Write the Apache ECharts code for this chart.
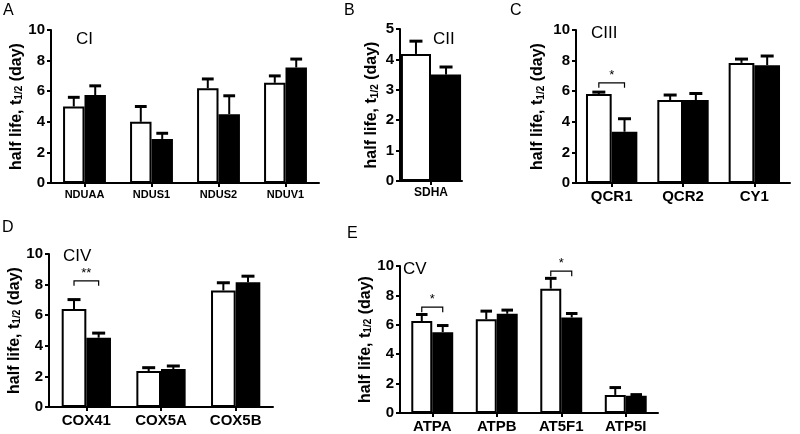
<!DOCTYPE html>
<html><head><meta charset="utf-8">
<script src="https://cdn.jsdelivr.net/npm/echarts@6/dist/echarts.min.js"></script>
<style>html,body{margin:0;padding:0;background:#fff}#c{width:800px;height:434px}</style>
</head><body><div id="c"></div>
<script>
// ---- data ----
const catA = ['NDUAA','NDUS1','NDUS2','NDUV1'];
const ctrlA = [5.0, 4.0, 6.2, 6.55];
const ctrlErrA = [0.6, 1.0, 0.6, 0.45];
const trtA = [5.75, 2.88, 4.5, 7.55];
const trtErrA = [0.6, 0.37, 1.2, 0.55];

const catB = ['SDHA'];
const ctrlB = [4.18];
const ctrlErrB = [0.42];
const trtB = [3.5];
const trtErrB = [0.25];

const catC = ['QCR1','QCR2','CY1'];
const ctrlC = [5.82, 5.42, 7.85];
const ctrlErrC = [0.12, 0.33, 0.25];
const trtC = [3.35, 5.42, 7.7];
const trtErrC = [0.85, 0.43, 0.6];

const catD = ['COX41','COX5A','COX5B'];
const ctrlD = [6.4, 2.35, 7.62];
const ctrlErrD = [0.62, 0.22, 0.5];
const trtD = [4.53, 2.48, 8.15];
const trtErrD = [0.3, 0.2, 0.4];

const catE = ['ATPA','ATPB','AT5F1','ATP5I'];
const ctrlE = [6.26, 6.38, 8.46, 1.23];
const ctrlErrE = [0.44, 0.55, 0.7, 0.5];
const trtE = [5.5, 6.75, 6.5, 1.17];
const trtErrE = [0.45, 0.25, 0.27, 0.08];

// significance: [category index, bracket level, label]
const sigC = [[0, 6.55, '*']];
const sigD = [[0, 8.25, '**']];
const sigE = [[0, 7.2, '*'], [2, 9.65, '*']];

const yMaxes = [10, 5, 10, 10, 10];
const yIntervals = [2, 1, 2, 2, 2];
const panelLetters = ['A','B','C','D','E'];
const panelTitles = ['CI','CII','CIII','CIV','CV'];
const yTitle = 'half life, t{sub|1/2} (day)';

// ---- layout (styles only) ----
const grids = [
  {left: 51, top: 30, width: 268, height: 153},
  {left: 400, top: 29, width: 62, height: 152},
  {left: 576, top: 30, width: 214, height: 153},
  {left: 49, top: 254, width: 224, height: 153},
  {left: 400, top: 266, width: 258, height: 149}
];
const gaps = [0.36, 0.03, 0.28, 0.34, 0.35];
const catFont = [11, 12, 15, 15, 15];
const nameGaps = [25, 20, 30, 25, 26];

const panels = [
  {cat: catA, c: ctrlA, ce: ctrlErrA, t: trtA, te: trtErrA, sig: []},
  {cat: catB, c: ctrlB, ce: ctrlErrB, t: trtB, te: trtErrB, sig: []},
  {cat: catC, c: ctrlC, ce: ctrlErrC, t: trtC, te: trtErrC, sig: sigC},
  {cat: catD, c: ctrlD, ce: ctrlErrD, t: trtD, te: trtErrD, sig: sigD},
  {cat: catE, c: ctrlE, ce: ctrlErrE, t: trtE, te: trtErrE, sig: sigE}
];

const FONT = 'Liberation Sans, Arial, sans-serif';
const chart = echarts.init(document.getElementById('c'));

const xAxis = [], yAxis = [], series = [];
panels.forEach((p, i) => {
  xAxis.push({
    type: 'category', gridIndex: i, data: p.cat,
    axisLine: {lineStyle: {color: '#000', width: 2}},
    axisTick: {show: true, alignWithLabel: true, length: 4, lineStyle: {color: '#000', width: 2}},
    axisLabel: {color: '#000', fontWeight: 'bold', fontSize: catFont[i], fontFamily: FONT, margin: 6, interval: 0}
  });
  yAxis.push({
    type: 'value', gridIndex: i, min: 0, max: yMaxes[i], interval: yIntervals[i],
    name: yTitle, nameLocation: 'middle', nameRotate: 90, nameGap: nameGaps[i],
    nameTextStyle: {color: '#000', fontWeight: 'bold', fontSize: 16, fontFamily: FONT,
      rich: {sub: {fontSize: 10, fontWeight: 'bold', fontFamily: FONT, color: '#000', verticalAlign: 'bottom', padding: [6, 0, 0, 0]}}},
    axisLine: {show: true, lineStyle: {color: '#000', width: 2}},
    axisTick: {show: true, length: 4, lineStyle: {color: '#000', width: 2}},
    axisLabel: {color: '#000', fontWeight: 'bold', fontSize: 15, fontFamily: FONT, margin: 6},
    splitLine: {show: false}
  });
  const gapPct = Math.round(gaps[i] * 100) + '%';
  series.push({
    type: 'bar', xAxisIndex: i, yAxisIndex: i, data: p.c,
    barGap: '0%', barCategoryGap: gapPct,
    itemStyle: {color: '#fff', borderColor: '#000', borderWidth: 2}, silent: true
  });
  series.push({
    type: 'bar', xAxisIndex: i, yAxisIndex: i, data: p.t,
    barGap: '0%', barCategoryGap: gapPct,
    itemStyle: {color: '#000', borderColor: '#000', borderWidth: 2}, silent: true
  });
  // error bars
  const errData = [];
  p.c.forEach((v, k) => errData.push([k, v, v + p.ce[k], -1]));
  p.t.forEach((v, k) => errData.push([k, v, v + p.te[k], 1]));
  const g = gaps[i];
  series.push({
    type: 'custom', xAxisIndex: i, yAxisIndex: i, data: errData, silent: true, z: 5,
    renderItem: function (params, api) {
      const band = api.size([1, 0])[0];
      const bw = band * (1 - g) / 2;
      const side = api.value(3);
      const x = api.coord([api.value(0), 0])[0] + side * bw / 2;
      const y1 = api.coord([api.value(0), api.value(1)])[1];
      const y2 = api.coord([api.value(0), api.value(2)])[1];
      const cap = Math.min(13, bw * 0.55);
      return {type: 'group', children: [
        {type: 'line', shape: {x1: x, y1: y1, x2: x, y2: y2}, style: {stroke: '#000', lineWidth: 2}},
        {type: 'line', shape: {x1: x - cap / 2, y1: y2, x2: x + cap / 2, y2: y2}, style: {stroke: '#000', lineWidth: 3}}
      ]};
    }
  });
  if (p.sig.length) {
    series.push({
      type: 'custom', xAxisIndex: i, yAxisIndex: i, data: p.sig, silent: true, z: 6,
      renderItem: function (params, api) {
        const band = api.size([1, 0])[0];
        const bw = band * (1 - g) / 2;
        const xc = api.coord([api.value(0), 0])[0];
        const y = api.coord([api.value(0), api.value(1)])[1];
        const xl = xc - bw / 2, xr = xc + bw / 2;
        const lbl = p.sig[params.dataIndex][2];
        return {type: 'group', children: [
          {type: 'polyline', shape: {points: [[xl, y + 5], [xl, y], [xr, y], [xr, y + 5]]}, style: {stroke: '#000', lineWidth: 1.2, fill: null}},
          {type: 'text', style: {text: lbl, x: xc, y: y - 1, align: 'center', verticalAlign: 'bottom', fontSize: 13, fontFamily: FONT, fill: '#000'}}
        ]};
      }
    });
  }
});

const letterPos = [[3, 3], [344, 3], [510, 3], [2, 220], [347, 226]];
const titlePos = [[76, 31], [433, 31], [591, 25], [63, 248], [403, 261]];
const graphic = [];
panelLetters.forEach((L, i) => {
  graphic.push({type: 'text', left: letterPos[i][0], top: letterPos[i][1],
    style: {text: L, fontSize: 16, fontFamily: FONT, fill: '#000'}});
  graphic.push({type: 'text', left: titlePos[i][0], top: titlePos[i][1],
    style: {text: panelTitles[i], fontSize: 17, fontFamily: FONT, fill: '#000'}});
});

chart.setOption({
  animation: false,
  backgroundColor: '#fff',
  grid: grids,
  xAxis: xAxis,
  yAxis: yAxis,
  series: series,
  graphic: graphic
});
</script>
</body></html>
